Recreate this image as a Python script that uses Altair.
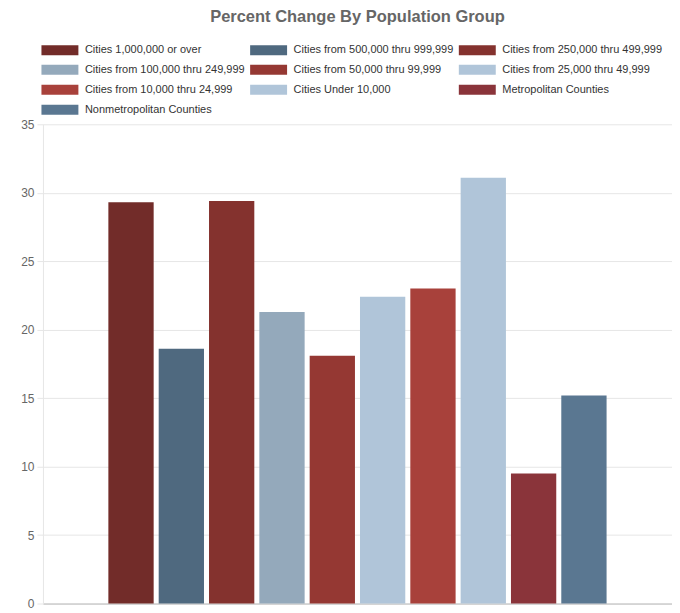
import altair as alt
import pandas as pd

groups = [
    "Cities 1,000,000 or over",
    "Cities from 500,000 thru 999,999",
    "Cities from 250,000 thru 499,999",
    "Cities from 100,000 thru 249,999",
    "Cities from 50,000 thru 99,999",
    "Cities from 25,000 thru 49,999",
    "Cities from 10,000 thru 24,999",
    "Cities Under 10,000",
    "Metropolitan Counties",
    "Nonmetropolitan Counties",
]
values = [29.3, 18.6, 29.4, 21.3, 18.1, 22.4, 23.0, 31.1, 9.5, 15.2]
colors = ["#722c29", "#4f697f", "#84322e", "#94a9bb", "#953833",
          "#b0c5d9", "#a8413b", "#b0c5d9", "#8a343a", "#5a7791"]
y_ticks = [0, 5, 10, 15, 20, 25, 30, 35]

df = pd.DataFrame({"group": groups, "value": values, "cat": ["all"] * len(groups)})

chart = alt.Chart(df).mark_bar().encode(
    x=alt.X("cat:N", title=None,
            scale=alt.Scale(paddingInner=0, paddingOuter=0.125),
            axis=alt.Axis(labels=False, ticks=False, grid=False,
                          domainColor="#bbbbbb", domainWidth=1)),
    xOffset=alt.XOffset("group:N", sort=groups,
                        scale=alt.Scale(paddingInner=0.1, paddingOuter=0.05)),
    y=alt.Y("value:Q", title=None,
            scale=alt.Scale(domain=[0, 35], nice=False),
            axis=alt.Axis(values=y_ticks, gridColor="#e6e6e6", tickColor="#e6e6e6",
                          domainColor="#e6e6e6", tickSize=6, labelPadding=3,
                          labelColor="#666666", labelFontSize=12,
                          labelFont="Liberation Sans")),
    color=alt.Color("group:N", sort=groups,
                    scale=alt.Scale(domain=groups, range=colors),
                    legend=alt.Legend(title=None, orient="none", columns=3,
                                      direction="horizontal",
                                      legendX=-2, legendY=-80,
                                      symbolType="M-1,-1L6.4,-1L6.4,1L-1,1Z",
                                      symbolSize=100, symbolStrokeWidth=0,
                                      symbolOpacity=1, labelOffset=33,
                                      labelFont="Liberation Sans", labelFontSize=11,
                                      labelColor="#333333", labelLimit=300,
                                      columnPadding=4, rowPadding=8,
                                      symbolOffset=0)),
).properties(
    width=630,
    height=480,
    title=alt.TitleParams("Percent Change By Population Group", font="Liberation Sans",
                          fontSize=16.5, fontWeight="bold", color="#666666",
                          anchor="middle", frame="group", offset=19),
    padding={"left": 12, "top": 0, "right": 0, "bottom": 0},
).configure_view(stroke=None)

chart.save("out.html", embed_options={"renderer": "svg", "actions": False})
